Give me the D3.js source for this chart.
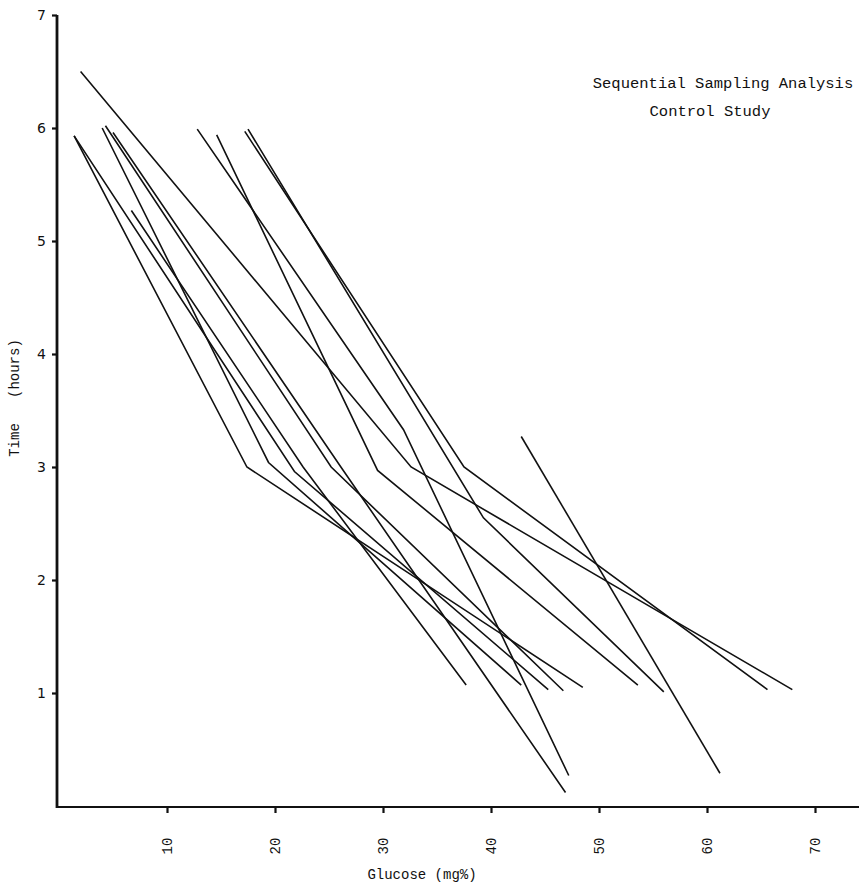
<!DOCTYPE html>
<html>
<head>
<meta charset="utf-8">
<script src="https://cdn.jsdelivr.net/npm/d3@7"></script>
<style>
  body { margin: 0; background: #fff; }
  svg { display: block; }
  .tick-label { font-family: "Liberation Mono", "DejaVu Sans Mono", monospace; font-size: 14px; fill: #111; }
  .y-tick-label { font-family: "DejaVu Sans", sans-serif; font-size: 14px; fill: #111; }
  .caption { font-family: "Liberation Mono", "DejaVu Sans Mono", monospace; font-size: 14px; fill: #111; white-space: pre; }
  .title { font-family: "Liberation Mono", "DejaVu Sans Mono", monospace; font-size: 15.5px; fill: #111; white-space: pre; }
  .subject-line { fill: none; stroke: #111; stroke-width: 1.6; stroke-linejoin: miter; }
</style>
</head>
<body>
<div id="chart"></div>
<script>
// one entry per subject, glucose (mg%) and time (hours) of each sample
const subjects = ['A', 'B1', 'B2', 'C1', 'C2', 'D', 'E', 'F', 'G', 'H', 'I', 'J'];

const glucose = [
  [2.0, 32.6, 67.9],
  [1.4, 17.4, 48.5],
  [1.4, 21.8, 45.3],
  [4.0, 19.4, 42.8],
  [4.3, 25.2, 46.7],
  [5.0, 26.1, 46.9],
  [6.7, 22.6, 37.7],
  [12.8, 31.9, 47.2],
  [14.6, 29.5, 53.6],
  [17.2, 37.5, 65.6],
  [17.5, 39.3, 56.0],
  [42.8, 61.2]
];

const hours = [
  [6.5, 3.0, 1.03],
  [5.93, 3.0, 1.05],
  [5.93, 2.96, 1.03],
  [6.0, 3.04, 1.07],
  [6.02, 3.0, 1.02],
  [5.96, 3.0, 0.12],
  [5.27, 3.0, 1.07],
  [5.99, 3.33, 0.27],
  [5.94, 2.97, 1.07],
  [5.97, 3.0, 1.03],
  [5.99, 2.55, 1.01],
  [3.27, 0.29]
];

const xTicks = [10, 20, 30, 40, 50, 60, 70];
const yTicks = [1, 2, 3, 4, 5, 6, 7];

const width = 859,
  height = 887;

const svg = d3
  .select('#chart')
  .append('svg')
  .attr('width', width)
  .attr('height', height);

const x = d3.scaleLinear().domain([0, 70]).range([59, 815]);
const y = d3.scaleLinear().domain([0, 7]).range([806, 15]);

const parsed = subjects.map((s, i) => ({
  name: s,
  points: glucose[i].map((g, j) => ({ g: g, h: hours[i][j] }))
}));

const line = d3
  .line()
  .x(d => x(d.g))
  .y(d => y(d.h));

svg
  .append('g')
  .selectAll('path')
  .data(parsed)
  .enter()
  .append('path')
  .attr('class', 'subject-line')
  .attr('d', d => line(d.points));

// axes
const xAxis = d3.axisBottom(x).tickValues(xTicks).tickSize(6).tickFormat(d3.format('d'));
const xAxisElem = svg
  .append('g')
  .attr('transform', 'translate(0,' + (y(0) + 1) + ')')
  .call(xAxis);
xAxisElem.select('.domain').remove();
xAxisElem
  .append('line')
  .attr('x1', x(0) - 2)
  .attr('x2', width)
  .attr('y1', 0)
  .attr('y2', 0)
  .attr('stroke', '#111')
  .attr('stroke-width', 2.2);
xAxisElem.selectAll('.tick line').attr('stroke', '#111').attr('stroke-width', 2.2);
xAxisElem
  .selectAll('.tick text')
  .attr('class', 'tick-label')
  .attr('transform', 'rotate(-90)')
  .attr('x', -39)
  .attr('y', 0)
  .attr('dy', '0.35em')
  .attr('text-anchor', 'middle')
  .attr('fill', null);

const yAxis = d3.axisLeft(y).tickValues(yTicks).tickSize(5).tickFormat(d3.format('d'));
const yAxisElem = svg
  .append('g')
  .attr('transform', 'translate(' + (x(0) - 2) + ',0)')
  .call(yAxis);
yAxisElem.select('.domain').remove();
yAxisElem
  .append('line')
  .attr('x1', 0)
  .attr('x2', 0)
  .attr('y1', y(7))
  .attr('y2', y(0) + 2)
  .attr('stroke', '#111')
  .attr('stroke-width', 2.8);
yAxisElem.selectAll('.tick line').attr('stroke', '#111').attr('stroke-width', 2.2);
yAxisElem
  .selectAll('.tick text')
  .attr('class', 'y-tick-label')
  .attr('x', -11)
  .attr('fill', null);

// labels
svg
  .append('text')
  .attr('class', 'caption')
  .attr('x', 422)
  .attr('y', 879)
  .attr('text-anchor', 'middle')
  .text('Glucose (mg%)');

svg
  .append('text')
  .attr('class', 'caption')
  .attr('transform', 'translate(19,' + 398 + ') rotate(-90)')
  .attr('text-anchor', 'middle')
  .text('Time   (hours)');

svg
  .append('text')
  .attr('class', 'title')
  .attr('x', 723)
  .attr('y', 88)
  .attr('text-anchor', 'middle')
  .text('Sequential Sampling Analysis');

svg
  .append('text')
  .attr('class', 'title')
  .attr('x', 710)
  .attr('y', 116)
  .attr('text-anchor', 'middle')
  .text('Control Study');
</script>
</body>
</html>
